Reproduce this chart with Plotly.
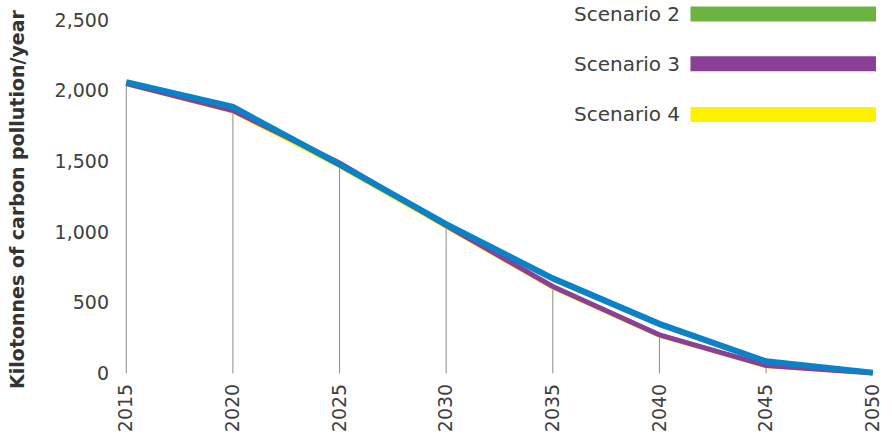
import plotly.graph_objects as go

years = [2015, 2020, 2025, 2030, 2035, 2040, 2045, 2050]
scenario_1 = [2060, 1885, 1478, 1055, 672, 350, 85, 5]
scenario_2 = [2055, 1875, 1468, 1048, 662, 342, 80, 4]
scenario_3 = [2050, 1860, 1488, 1045, 615, 272, 55, 3]
scenario_4 = [2045, 1852, 1466, 1036, 606, 266, 50, 2]
y_ticks = [0, 500, 1000, 1500, 2000, 2500]
x_ticks = years

W, H = 892, 446
L, R, T, B = 122, 9, 18, 67
x_range = [2014.8, 2050.2]
y_range = [-40, 2500]

def px_x(px):
    return (px - L) / (W - L - R)

def px_y(py):
    return (H - B - py) / (H - T - B)

FONT = "DejaVu Sans"
TXT = "#404040"

fig = go.Figure()

# drop lines from the lowest series value to zero
all_series = [scenario_1, scenario_2, scenario_3, scenario_4]
dx, dy = [], []
for i, yr in enumerate(years):
    lo = min(s[i] for s in all_series)
    dx += [yr, yr, None]
    dy += [0, lo, None]
fig.add_trace(go.Scatter(x=dx, y=dy, mode="lines", line=dict(color="#8c8c8c", width=1),
                         hoverinfo="skip", showlegend=False))

series = [
    ("Scenario 4", scenario_4, "#fff200", 4),
    ("Scenario 2", scenario_2, "#6db33f", 4),
    ("Scenario 3", scenario_3, "#8b3f96", 5),
    ("Scenario 1", scenario_1, "#0a82c8", 6),
]
for name, vals, col, w in series:
    fig.add_trace(go.Scatter(x=years, y=vals, mode="lines", name=name,
                             line=dict(color=col, width=w, shape="linear"),
                             showlegend=False))

# custom legend (text left of colour bar)
legend_items = [("Scenario 2", "#6db33f", 12), ("Scenario 3", "#8b3f96", 62), ("Scenario 4", "#fff200", 113)]
shapes = []
annotations = []
for name, col, cy in legend_items:
    shapes.append(dict(type="rect", xref="paper", yref="paper",
                       x0=px_x(695), x1=px_x(882), y0=px_y(cy + 7.5), y1=px_y(cy - 7.5),
                       fillcolor=col, line=dict(width=0), layer="above"))
    annotations.append(dict(text=name, xref="paper", yref="paper", x=px_x(686), y=px_y(cy),
                            xanchor="right", yanchor="middle", showarrow=False,
                            font=dict(family=FONT, size=20, color=TXT)))

fig.update_layout(
    width=W, height=H,
    margin=dict(l=L, r=R, t=T, b=B),
    paper_bgcolor="white", plot_bgcolor="white",
    shapes=shapes, annotations=annotations,
    showlegend=False,
    xaxis=dict(range=x_range, tickvals=x_ticks, ticktext=[str(v) for v in x_ticks],
               tickangle=-90, showgrid=False, zeroline=False, showline=False,
               ticks="", tickfont=dict(family=FONT, size=19, color=TXT)),
    yaxis=dict(range=y_range, tickvals=y_ticks, tickformat=",", showgrid=False,
               zeroline=False, showline=False, ticks="", ticklabelstandoff=12,
               tickfont=dict(family=FONT, size=19, color=TXT),
               title=dict(text="<b>Kilotonnes of carbon pollution/year</b>",
                          font=dict(family=FONT, size=19, color="#333333"), standoff=24)),
)

fig.write_html("out.html")
